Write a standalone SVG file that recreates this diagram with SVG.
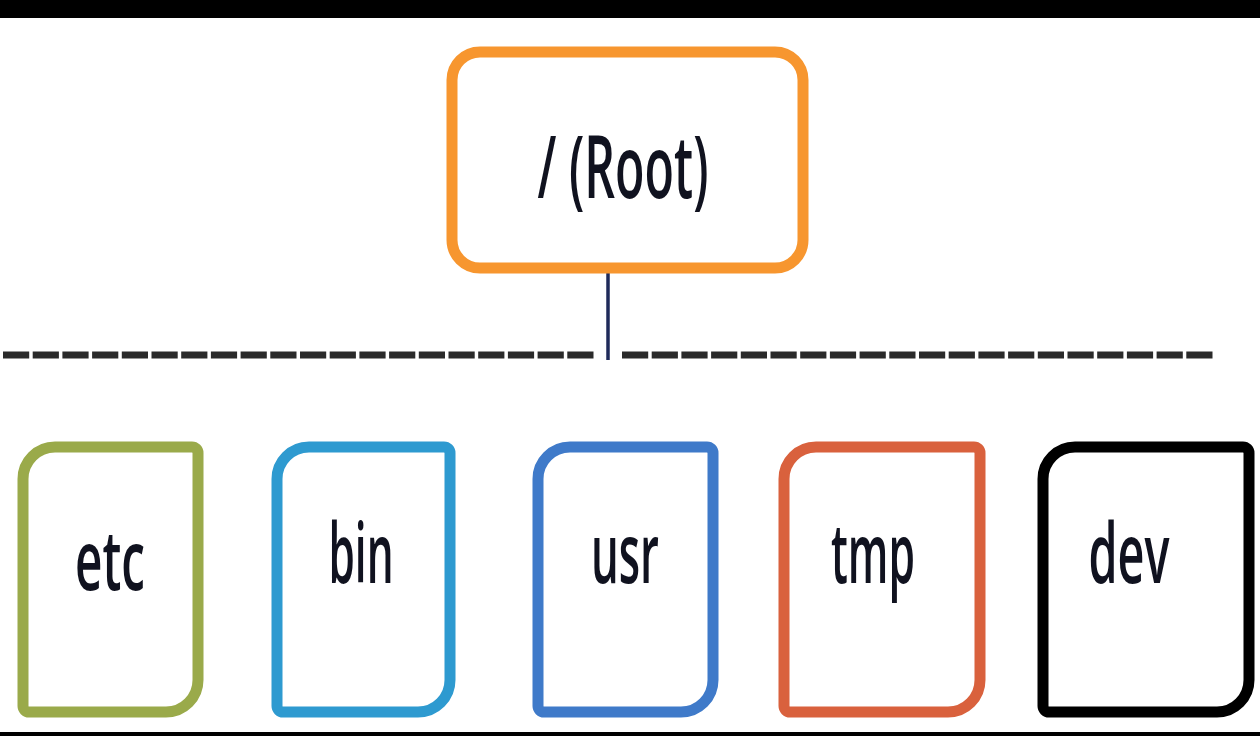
<svg xmlns="http://www.w3.org/2000/svg" width="1260" height="736" viewBox="0 0 1260 736">
<style>
.box{fill:#fff;stroke-width:11;stroke-linejoin:round}
.lbl{font-family:"Open Sans","Liberation Sans",sans-serif;font-weight:600;fill:#10121f;text-anchor:middle}
.dash{stroke:#2a2a2a;stroke-width:7;stroke-dasharray:26.2 3.5;fill:none}
</style>
<rect x="0" y="0" width="1260" height="736" fill="#fff"/>
<rect x="0" y="0" width="1260" height="18" fill="#000"/>
<rect x="0" y="732" width="1260" height="4" fill="#000"/>
<g id="connectors">
<line x1="608" y1="273" x2="608" y2="360" stroke="#1f2a5a" stroke-width="3.5"/>
<line class="dash" x1="3" y1="355" x2="593.5" y2="355"/>
<line class="dash" x1="622" y1="355" x2="1212.5" y2="355"/>
</g>
<g id="root">
<rect class="box" x="452" y="52" width="351" height="216" rx="28" stroke="#f7962f"/>
<text class="lbl" x="623" y="198" font-size="86" textLength="171" lengthAdjust="spacingAndGlyphs">/ (Root)</text>
</g>
<g id="etc">
<path class="box" stroke="#9aaa4a" d="M55,447 H192 A6,6 0 0 1 198,453 V680 A32,32 0 0 1 166,712 H29 A6,6 0 0 1 23,706 V479 A32,32 0 0 1 55,447 Z"/>
<text class="lbl" x="110" y="590" font-size="84" textLength="70" lengthAdjust="spacingAndGlyphs">etc</text>
</g>
<g id="bin">
<path class="box" stroke="#2e9ad0" d="M309,447 H444 A6,6 0 0 1 450,453 V680 A32,32 0 0 1 418,712 H283 A6,6 0 0 1 277,706 V479 A32,32 0 0 1 309,447 Z"/>
<text class="lbl" x="361" y="583" font-size="84" textLength="65" lengthAdjust="spacingAndGlyphs">bin</text>
</g>
<g id="usr">
<path class="box" stroke="#3f7ac9" d="M570,447 H707 A6,6 0 0 1 713,453 V680 A32,32 0 0 1 681,712 H544 A6,6 0 0 1 538,706 V479 A32,32 0 0 1 570,447 Z"/>
<text class="lbl" x="625" y="583" font-size="84" textLength="68" lengthAdjust="spacingAndGlyphs">usr</text>
</g>
<g id="tmp">
<path class="box" stroke="#d9613d" d="M816,447 H974 A6,6 0 0 1 980,453 V680 A32,32 0 0 1 948,712 H790 A6,6 0 0 1 784,706 V479 A32,32 0 0 1 816,447 Z"/>
<text class="lbl" x="873" y="583" font-size="84" textLength="84" lengthAdjust="spacingAndGlyphs">tmp</text>
</g>
<g id="dev">
<path class="box" stroke="#000" d="M1075,447 H1243 A6,6 0 0 1 1249,453 V680 A32,32 0 0 1 1217,712 H1049 A6,6 0 0 1 1043,706 V479 A32,32 0 0 1 1075,447 Z"/>
<text class="lbl" x="1129" y="583" font-size="84" textLength="81" lengthAdjust="spacingAndGlyphs">dev</text>
</g>
</svg>
